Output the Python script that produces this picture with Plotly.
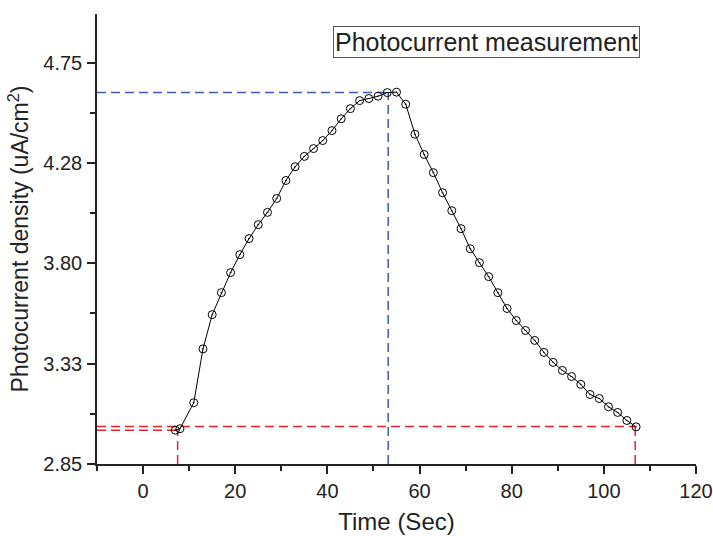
import plotly.graph_objects as go

# ---- data ----
time_s = [7, 8, 11, 13, 15, 17, 19, 21, 23, 25, 27, 29, 31, 33, 35, 37, 39, 41, 43,
          45, 47, 49, 51, 53, 55, 57, 59, 61, 63, 65, 67, 69, 71, 73, 75, 77, 79,
          81, 83, 85, 87, 89, 91, 93, 95, 97, 99, 101, 103, 105, 107]
density = [3.010, 3.017, 3.140, 3.395, 3.557, 3.661, 3.756, 3.841, 3.917, 3.983,
           4.041, 4.107, 4.192, 4.257, 4.306, 4.343, 4.381, 4.428, 4.484, 4.532,
           4.570, 4.580, 4.591, 4.608, 4.610, 4.553, 4.411, 4.315, 4.229, 4.134,
           4.049, 3.964, 3.869, 3.803, 3.737, 3.661, 3.586, 3.529, 3.482, 3.435,
           3.378, 3.331, 3.293, 3.264, 3.227, 3.179, 3.160, 3.121, 3.094, 3.056,
           3.026]

y_tick_vals = [2.85, 3.325, 3.80, 4.275, 4.75]
y_tick_text = ["2.85", "3.33", "3.80", "4.28", "4.75"]
y_minor_vals = [3.0875, 3.5625, 4.0375, 4.5125]

x_min, x_max = -10, 120
y_min, y_max = 2.85, 4.98

# guide lines
peak_time, peak_value = 53.2, 4.608
start_time, start_value = 7.5, 3.010
end_time, end_value = 106.8, 3.028

blue = "#3D5DAE"
red = "#E8222A"
dash = "9px,5px"

fig = go.Figure()

def guide(xs, ys, color):
    fig.add_trace(go.Scatter(x=xs, y=ys, mode="lines",
                             line=dict(color=color, width=1.5, dash=dash),
                             showlegend=False, hoverinfo="skip"))

# blue guides (peak)
guide([x_min, peak_time], [peak_value, peak_value], blue)
guide([peak_time, peak_time], [y_min, peak_value], blue)
# red guides (start / end)
guide([x_min, end_time], [end_value, end_value], red)
guide([x_min, start_time], [start_value, start_value], red)
guide([start_time, start_time], [y_min, start_value], red)
guide([end_time, end_time], [y_min, end_value], red)

# measurement curve
fig.add_trace(go.Scatter(x=time_s, y=density, mode="lines+markers",
                         line=dict(color="black", width=1),
                         marker=dict(symbol="circle-open-dot", size=8, color="black",
                                     line=dict(color="black", width=1)),
                         showlegend=False))

font_family = "Liberation Sans, Arial, sans-serif"
ink = "#222222"

fig.update_layout(
    width=713, height=536,
    margin=dict(l=97, r=17, t=14, b=72),
    paper_bgcolor="white", plot_bgcolor="white",
    font=dict(family=font_family, color=ink),
    xaxis=dict(range=[x_min, x_max], tickmode="linear", tick0=0, dtick=20,
               automargin=False,
               showline=True, linecolor=ink, linewidth=1.5,
               ticks="outside", ticklen=8, tickwidth=1.5, tickcolor=ink,
               minor=dict(tickmode="linear", tick0=0, dtick=10, ticks="outside",
                          ticklen=5, tickwidth=1.5, tickcolor=ink),
               showgrid=False, zeroline=False,
               tickfont=dict(size=20),
               title=dict(text="Time (Sec)", font=dict(size=24), standoff=12)),
    yaxis=dict(range=[y_min, y_max], tickmode="array", tickvals=y_tick_vals,
               ticktext=y_tick_text, automargin=False, ticklabelstandoff=1,
               showline=True, linecolor=ink, linewidth=1.5,
               ticks="outside", ticklen=8, tickwidth=1.5, tickcolor=ink,
               minor=dict(tickmode="array", tickvals=y_minor_vals, ticks="outside",
                          ticklen=5, tickwidth=1.5, tickcolor=ink),
               showgrid=False, zeroline=False,
               tickfont=dict(size=20),
               title=dict(text="Photocurrent density (uA/cm<sup>2</sup>)",
                          font=dict(size=23), standoff=8)),
    annotations=[dict(text="Photocurrent measurement", xref="paper", yref="paper",
                      x=0.9065, y=1.0 - 12 / 450, xanchor="right", yanchor="top",
                      showarrow=False, font=dict(size=25, color=ink),
                      bordercolor="#555555", borderwidth=1, borderpad=1,
                      bgcolor="white")],
)

fig.write_html("out.html", config={"displayModeBar": False},
               post_script="document.body.style.margin='0';document.body.style.overflow='hidden';")
